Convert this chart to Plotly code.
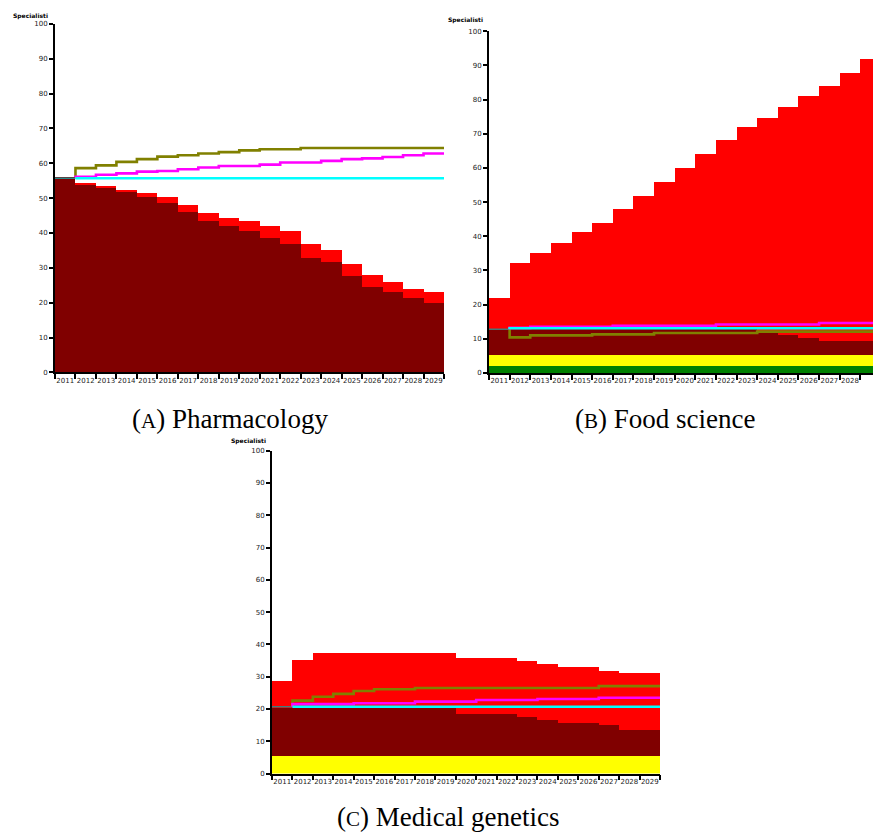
import plotly.graph_objects as go

years = list(range(2011, 2030))
year_labels = [str(y) for y in years]
y_ticks = [0, 10, 20, 30, 40, 50, 60, 70, 80, 90, 100]

# ---- Panel A: Pharmacology ----
A_maroon_top = [56.0, 54.1, 53.0, 51.7, 50.5, 48.6, 46.0, 43.4, 42.0, 40.6, 38.7, 37.0, 33.0, 31.6, 27.7, 24.6, 23.1, 21.4, 19.9]
A_red_top = [56.0, 54.5, 53.6, 52.5, 51.5, 50.5, 48.2, 45.7, 44.5, 43.6, 42.0, 40.6, 36.8, 35.3, 31.1, 28.0, 26.1, 24.1, 23.0]
A_olive = [56.0, 58.6, 59.4, 60.4, 61.2, 61.9, 62.3, 62.8, 63.2, 63.7, 64.0, 64.0, 64.4, 64.4, 64.4, 64.4, 64.4, 64.4, 64.4]
A_magenta = [56.0, 56.1, 56.7, 57.1, 57.6, 57.8, 58.3, 58.8, 59.2, 59.2, 59.6, 60.2, 60.2, 60.7, 61.2, 61.4, 61.8, 62.3, 62.8]
A_cyan = [55.7, 55.7, 55.7, 55.7, 55.7, 55.7, 55.7, 55.7, 55.7, 55.7, 55.7, 55.7, 55.7, 55.7, 55.7, 55.7, 55.7, 55.7, 55.7]

# ---- Panel B: Food science ----
B_green_top = [2.0] * 19
B_yellow_top = [5.3] * 19
B_maroon_top = [12.5, 12.9, 12.9, 12.9, 12.9, 12.9, 12.9, 12.9, 12.9, 12.9, 12.9, 12.9, 12.9, 12.2, 11.1, 10.1, 9.2, 9.2, 9.2]
B_red_top = [21.9, 32.0, 35.1, 37.9, 41.1, 43.8, 47.9, 51.7, 55.7, 60.0, 64.0, 68.0, 71.9, 74.6, 77.9, 81.0, 83.8, 87.7, 91.8]
B_olive = [12.8, 10.4, 11.0, 11.0, 11.0, 11.3, 11.3, 11.3, 11.7, 11.7, 11.7, 11.7, 11.7, 12.1, 12.1, 12.1, 12.1, 12.1, 12.1]
B_magenta = [12.8, 13.2, 13.5, 13.5, 13.5, 13.5, 13.8, 13.8, 13.8, 13.8, 13.8, 14.2, 14.2, 14.2, 14.2, 14.2, 14.6, 14.6, 14.6]
B_cyan = [12.8, 13.1, 13.1, 13.1, 13.1, 13.1, 13.1, 13.1, 13.1, 13.1, 13.1, 13.1, 13.1, 13.1, 13.1, 13.1, 13.1, 13.1, 13.1]

# ---- Panel C: Medical genetics ----
C_yellow_top = [5.4] * 19
C_maroon_top = [20.3, 20.3, 20.3, 20.3, 20.3, 20.3, 20.3, 20.3, 20.3, 18.7, 18.7, 18.7, 17.7, 16.8, 15.9, 15.9, 15.1, 13.7, 13.7]
C_red_top = [28.9, 35.4, 37.5, 37.5, 37.5, 37.5, 37.5, 37.5, 37.5, 35.8, 35.8, 35.8, 35.0, 34.1, 33.1, 33.1, 31.9, 31.1, 31.1]
C_olive = [20.7, 22.6, 23.8, 24.7, 25.6, 26.1, 26.1, 26.5, 26.5, 26.5, 26.5, 26.5, 26.5, 26.5, 26.5, 26.5, 27.1, 27.1, 27.1]
C_magenta = [20.7, 21.5, 21.5, 21.5, 21.8, 21.8, 21.8, 22.3, 22.3, 22.3, 22.8, 22.8, 22.8, 23.1, 23.1, 23.1, 23.5, 23.5, 23.5]
C_cyan = [20.7, 20.7, 20.7, 20.7, 20.7, 20.7, 20.7, 20.7, 20.7, 20.7, 20.7, 20.7, 20.7, 20.7, 20.7, 20.7, 20.7, 20.7, 20.7]

GREEN, YELLOW, MAROON, RED = "#008000", "#FFFF00", "#800000", "#FF0000"
OLIVE, MAGENTA, CYAN = "#808000", "#FF00FF", "#00FFFF"

fig = go.Figure()


def add_panel(idx, layers, lines):
    xa = "x" if idx == 1 else f"x{idx}"
    ya = "y" if idx == 1 else f"y{idx}"
    prev = [0.0] * len(years)
    for tops, color in layers:
        heights = [t - p for t, p in zip(tops, prev)]
        fig.add_trace(go.Bar(x=years, y=heights, base=prev, width=1.0,
                             marker=dict(color=color, line=dict(width=0)),
                             xaxis=xa, yaxis=ya, showlegend=False, hoverinfo="skip"))
        prev = tops
    edges = [y + 0.5 for y in years]
    # first-year thin segment
    cyan_vals = lines[-1][0]
    fig.add_trace(go.Scatter(x=[years[0] - 0.5, years[0] + 0.5], y=[cyan_vals[0], cyan_vals[0]],
                             mode="lines", line=dict(color="#2a8a8a", width=1.3),
                             xaxis=xa, yaxis=ya, showlegend=False, hoverinfo="skip"))
    for vals, color in lines:
        fig.add_trace(go.Scatter(x=[years[0] + 0.5] + edges[1:], y=vals,
                                 mode="lines", line=dict(color=color, width=2.6, shape="vh"),
                                 xaxis=xa, yaxis=ya, showlegend=False, hoverinfo="skip"))


add_panel(1, [(A_maroon_top, MAROON), (A_red_top, RED)],
          [(A_olive, OLIVE), (A_magenta, MAGENTA), (A_cyan, CYAN)])
add_panel(2, [(B_green_top, GREEN), (B_yellow_top, YELLOW), (B_maroon_top, MAROON), (B_red_top, RED)],
          [(B_olive, OLIVE), (B_magenta, MAGENTA), (B_cyan, CYAN)])
add_panel(3, [(C_yellow_top, YELLOW), (C_maroon_top, MAROON), (C_red_top, RED)],
          [(C_olive, OLIVE), (C_magenta, MAGENTA), (C_cyan, CYAN)])

W, H = 873, 839
tickfont = dict(family="DejaVu Sans", size=7, color="#222")


def xaxis(x0, x1, rng):
    return dict(domain=[x0 / W, x1 / W], range=rng, showgrid=False, zeroline=False,
                showline=True, linecolor="black", linewidth=1.5,
                tickmode="array", tickvals=years, ticktext=year_labels, ticks="",
                tickfont=tickfont, tickangle=0,
                minor=dict(tickmode="array", tickvals=[y - 0.5 for y in years] + [years[-1] + 0.5],
                           ticks="outside", ticklen=5, tickwidth=1.5, tickcolor="black"),
                fixedrange=True)


def yaxis(ytop, ybot, anchor):
    return dict(domain=[1 - ybot / H, 1 - ytop / H], range=[0, 100], showgrid=False, zeroline=False,
                showline=True, linecolor="black", linewidth=2,
                tickmode="array", tickvals=y_ticks, ticks="outside", ticklen=4, tickwidth=1.5,
                tickcolor="black", tickfont=tickfont, anchor=anchor, fixedrange=True)


n_visible_B = (873 - 489) / 20.63
fig.update_layout(
    width=W, height=H, margin=dict(l=0, r=0, t=0, b=0),
    paper_bgcolor="white", plot_bgcolor="white", barmode="overlay", bargap=0,
    xaxis=dict(xaxis(55, 444, [2010.5, 2029.5]), anchor="y"),
    yaxis=yaxis(20, 372, "x"),
    xaxis2=dict(xaxis(489, 873, [2010.5, 2010.5 + n_visible_B]), anchor="y2"),
    yaxis2=yaxis(27.5, 372.5, "x2"),
    xaxis3=dict(xaxis(272, 660, [2010.5, 2029.5]), anchor="y3"),
    yaxis3=yaxis(451, 777, "x3"),
)

ann_font = dict(family="DejaVu Sans", size=6, color="black")
for xpix, ypix in [(30, 12), (465, 16), (248, 441)]:
    fig.add_annotation(x=xpix / W, y=1 - ypix / H, xref="paper", yref="paper",
                       text="<b>Specialisti</b>", showarrow=False, font=ann_font,
                       xanchor="center", yanchor="middle")

cap_font = dict(family="Liberation Serif", size=27, color="black")
captions = [("(<span style='font-size:21px'>A</span>) Pharmacology", 230, 419),
            ("(<span style='font-size:21px'>B</span>) Food science", 665, 419),
            ("(<span style='font-size:21px'>C</span>) Medical genetics", 448, 821)]
for text, xpix, ypix in captions:
    fig.add_annotation(x=xpix / W, y=1 - ypix / H, xref="paper", yref="paper",
                       text=text, showarrow=False, font=cap_font,
                       xanchor="center", yanchor="middle")

fig.write_html("out.html")
